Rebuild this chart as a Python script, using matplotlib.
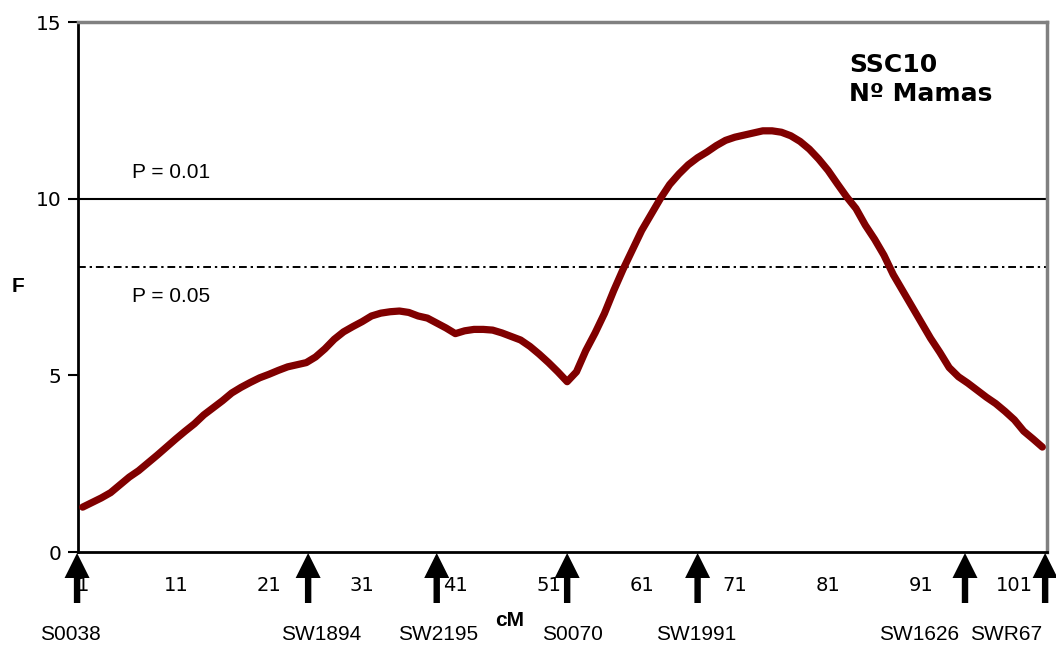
import matplotlib
matplotlib.use("Agg")
import matplotlib.pyplot as plt
from matplotlib.patches import Polygon
from matplotlib.transforms import IdentityTransform

# ---- data ----
cM = list(range(1, 105))
F_values = [
    1.27, 1.40, 1.53, 1.68, 1.90, 2.12, 2.30, 2.52, 2.74, 2.97,
    3.20, 3.42, 3.63, 3.88, 4.08, 4.28, 4.50, 4.66, 4.80, 4.93,
    5.03, 5.14, 5.24, 5.30, 5.36, 5.52, 5.75, 6.02, 6.23, 6.38,
    6.52, 6.68, 6.76, 6.80, 6.82, 6.78, 6.68, 6.62, 6.48, 6.34,
    6.18, 6.26, 6.30, 6.30, 6.28, 6.20, 6.10, 6.00, 5.82, 5.60,
    5.36, 5.10, 4.82, 5.10, 5.70, 6.20, 6.75, 7.40, 8.00, 8.55,
    9.10, 9.55, 10.00, 10.40, 10.70, 10.96, 11.16, 11.32, 11.50, 11.65,
    11.74, 11.80, 11.86, 11.92, 11.92, 11.88, 11.78, 11.62, 11.40, 11.12,
    10.80, 10.42, 10.05, 9.72, 9.25, 8.85, 8.40, 7.85, 7.40, 6.95,
    6.50, 6.05, 5.65, 5.22, 4.96, 4.78, 4.58, 4.38, 4.20, 3.98,
    3.74, 3.42, 3.20, 2.97,
]
threshold_01 = 10.0
threshold_05 = 8.07
x_tick_values = [1, 11, 21, 31, 41, 51, 61, 71, 81, 91, 101]
y_tick_values = [0, 5, 10, 15]
marker_names = ["S0038", "SW1894", "SW2195", "S0070", "SW1991", "SW1626", "SWR67"]
marker_positions = [0.4, 25.2, 39.0, 53.0, 67.0, 95.7, 104.3]
marker_label_positions = [-0.26, 26.6, 39.2, 53.6, 66.9, 90.8, 100.1]

W, H = 1056, 646
fig = plt.figure(figsize=(W / 100, H / 100), dpi=100)
ax = fig.add_axes([78 / W, 1 - 552 / H, (1047 - 78) / W, (552 - 22) / H])

ax.plot(cM, F_values, color="#800000", lw=5.2, solid_capstyle="round",
        solid_joinstyle="round", zorder=3)
ax.axhline(threshold_01, color="black", lw=1.5, zorder=2)
ax.axhline(threshold_05, color="black", lw=1.4, linestyle=(0, (4, 2, 1.2, 2)), zorder=2)

ax.set_xlim(0.5, 104.5)
ax.set_ylim(0, 15)

ax.set_xticks(x_tick_values)
ax.set_xticklabels([str(v) for v in x_tick_values], fontfamily="DejaVu Sans", fontsize=14)
ax.set_yticks(y_tick_values)
ax.set_yticklabels([str(v) for v in y_tick_values], fontfamily="DejaVu Sans", fontsize=14.5)
ax.tick_params(axis="x", length=0, pad=17)
ax.tick_params(axis="y", length=7, width=1.5, pad=5)

for s in ["left", "bottom"]:
    ax.spines[s].set_color("black")
    ax.spines[s].set_linewidth(2)
for s in ["top", "right"]:
    ax.spines[s].set_color("#808080")
    ax.spines[s].set_linewidth(2.5)

ax.text(6.3, 10.73, "P = 0.01", fontfamily="Liberation Sans", fontsize=15, va="center", ha="left")
ax.text(6.3, 7.22, "P = 0.05", fontfamily="Liberation Sans", fontsize=15, va="center", ha="left")

ax.text(83.3, 13.37, "SSC10\nNº Mamas", fontfamily="DejaVu Sans", fontweight="bold",
        fontsize=18, va="center", ha="left", linespacing=1.3)

fig.text(18 / W, 1 - 287 / H, "F", fontfamily="Liberation Sans", fontweight="bold",
         fontsize=15, ha="center", va="center")
fig.text(510 / W, 1 - 620 / H, "cM", fontfamily="Liberation Sans", fontweight="bold",
         fontsize=15, ha="center", va="center")

# marker arrows below the axis
for pos, lab_pos, name in zip(marker_positions, marker_label_positions, marker_names):
    xp = ax.transData.transform((pos, 0))[0]
    top = H - 553
    head_base = H - 578
    bottom = H - 603
    hw, sw = 12.5, 3.2
    pts = [(xp, top), (xp + hw, head_base), (xp + sw, head_base), (xp + sw, bottom),
           (xp - sw, bottom), (xp - sw, head_base), (xp - hw, head_base)]
    fig.add_artist(Polygon(pts, closed=True, facecolor="black", edgecolor="none",
                           transform=IdentityTransform()))
    xl = ax.transData.transform((lab_pos, 0))[0]
    fig.text(xl / W, 1 - 634 / H, name, fontfamily="Liberation Sans", fontsize=15,
             ha="center", va="center")

fig.savefig("out.png", dpi=100)
